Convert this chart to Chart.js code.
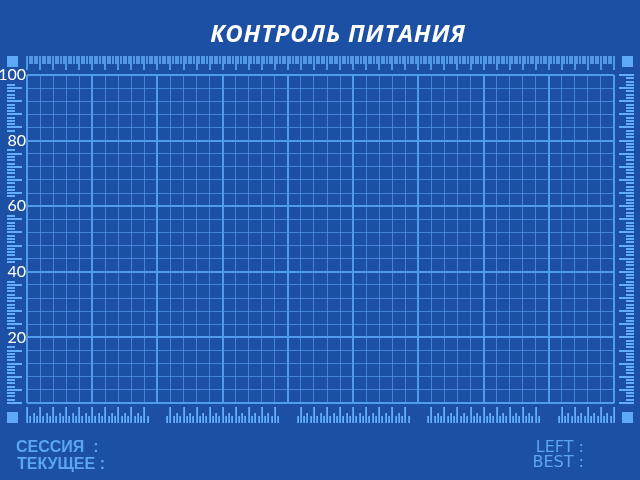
<!DOCTYPE html>
<html>
<head>
<meta charset="utf-8">
<script src="https://cdn.jsdelivr.net/npm/chart.js@4"></script>
<style>
  html, body { margin: 0; padding: 0; background: #1c50a4; }
  #wrap { position: relative; width: 640px; height: 480px; overflow: hidden; }
  #chart { position: absolute; left: 0; top: 0; }
  .txt { position: absolute; white-space: pre; line-height: 1; }
  #title { left: 0; width: 676px; top: 16px; text-align: center; color: #fff;
           font: italic 700 24px "Open Sans"; letter-spacing: 0.8px; }
  .stat { color: #5ba5f2; font: bold 16px "Liberation Sans"; }
  .stat2 { color: #5ba5f2; font: 16px "DejaVu Sans"; text-align: right; width: 200px; }
</style>
</head>
<body>
<div id="wrap">
  <canvas id="chart" width="640" height="480"></canvas>
  <div id="title" class="txt">КОНТРОЛЬ ПИТАНИЯ</div>
  <div class="txt stat" style="left:16px; top:438px">СЕССИЯ  :</div>
  <div class="txt stat" style="left:17px; top:455px">ТЕКУЩЕЕ :</div>
  <div class="txt stat2" style="left:384px; top:437px">LEFT :</div>
  <div class="txt stat2" style="left:384px; top:452px">BEST :</div>
</div>
<script>
// axis ranges
const xRange = [0, 45];
const yRange = [0, 100];
const yTickLabels = [20, 40, 60, 80, 100];
// readings (none recorded yet)
const powerReadings = [];
// bottom ruler groups, in x units
const bottomRulerSegments = [[0, 9.3], [10.7, 19.3], [20.7, 29.3], [30.7, 39.3], [40.7, 45]];

const MAJOR = "#4f9bec";
const MINOR = "rgba(82, 152, 238, 0.7)";
const RULER = "#62aefc";

const rulers = {
  id: "rulers",
  afterDraw(chart) {
    const ctx = chart.ctx;
    const x = chart.scales.x, y = chart.scales.y;
    ctx.save();
    ctx.fillStyle = RULER;

    // top ruler
    for (let i = 0; i <= 225; i++) {
      const px = Math.round(x.getPixelForValue(i / 5));
      const long = i % 5 === 0;
      ctx.fillRect(px - 0.75, 56, 1.5, long ? 14 : 8);
    }

    // left ruler
    for (let v = 0; v <= 100; v++) {
      if (yTickLabels.some(l => Math.abs(v - l) <= 2)) continue;
      const py = Math.round(y.getPixelForValue(v));
      const long = v % 4 === 0;
      ctx.fillRect(7, py - 1, long ? 15 : 8, 2);
    }

    // right ruler
    for (let v = 0; v <= 100; v++) {
      const py = Math.round(y.getPixelForValue(v));
      const long = v % 4 === 0;
      ctx.fillRect(long ? 619 : 626, py - 1, long ? 15 : 8, 2);
    }

    // bottom ruler
    for (const [a, b] of bottomRulerSegments) {
      for (let i = Math.ceil(a * 4); i <= Math.floor(b * 4); i++) {
        const px = Math.round(x.getPixelForValue(i / 4));
        const h = i % 4 === 0 ? 16 : (i % 2 === 0 ? 10 : 7);
        ctx.fillRect(px - 0.75, 423 - h, 1.75, h);
      }
    }

    // corner squares
    ctx.fillStyle = "#5ea9f7";
    [[7, 56], [622, 56], [7, 412], [622, 412]].forEach(([sx, sy]) => ctx.fillRect(sx, sy, 11, 11));
    ctx.restore();
  }
};

new Chart(document.getElementById("chart").getContext("2d"), {
  type: "line",
  data: {
    datasets: [{
      label: "Питание",
      data: powerReadings,
      borderColor: "#ffffff",
      pointRadius: 0
    }]
  },
  options: {
    responsive: false,
    animation: false,
    layout: { padding: { top: 75, right: 26, bottom: 77, left: 0 } },
    scales: {
      x: {
        type: "linear",
        min: xRange[0],
        max: xRange[1],
        ticks: { display: false, stepSize: 1, maxTicksLimit: 100 },
        border: { display: false },
        grid: {
          drawTicks: false,
          color: c => (c.tick && c.tick.value % 5 === 0) ? MAJOR : MINOR,
          lineWidth: c => (c.tick && c.tick.value % 5 === 0) ? 2 : 1
        },
        afterFit: s => { s.height = 0; }
      },
      y: {
        min: yRange[0],
        max: yRange[1],
        ticks: {
          stepSize: 4,
          maxTicksLimit: 100,
          autoSkip: false,
          padding: 1,
          color: "#ffffff",
          font: { family: "Lato", size: 16 },
          callback: v => yTickLabels.includes(v) ? String(v) : ""
        },
        border: { display: false },
        grid: {
          drawTicks: false,
          color: c => (c.tick && c.tick.value % 20 === 0) ? MAJOR : MINOR,
          lineWidth: c => (c.tick && c.tick.value % 20 === 0) ? 2 : 1
        },
        afterFit: s => { s.width = 27; }
      }
    },
    plugins: {
      legend: { display: false },
      title: { display: false },
      tooltip: { enabled: false }
    }
  },
  plugins: [rulers]
});
</script>
</body>
</html>
